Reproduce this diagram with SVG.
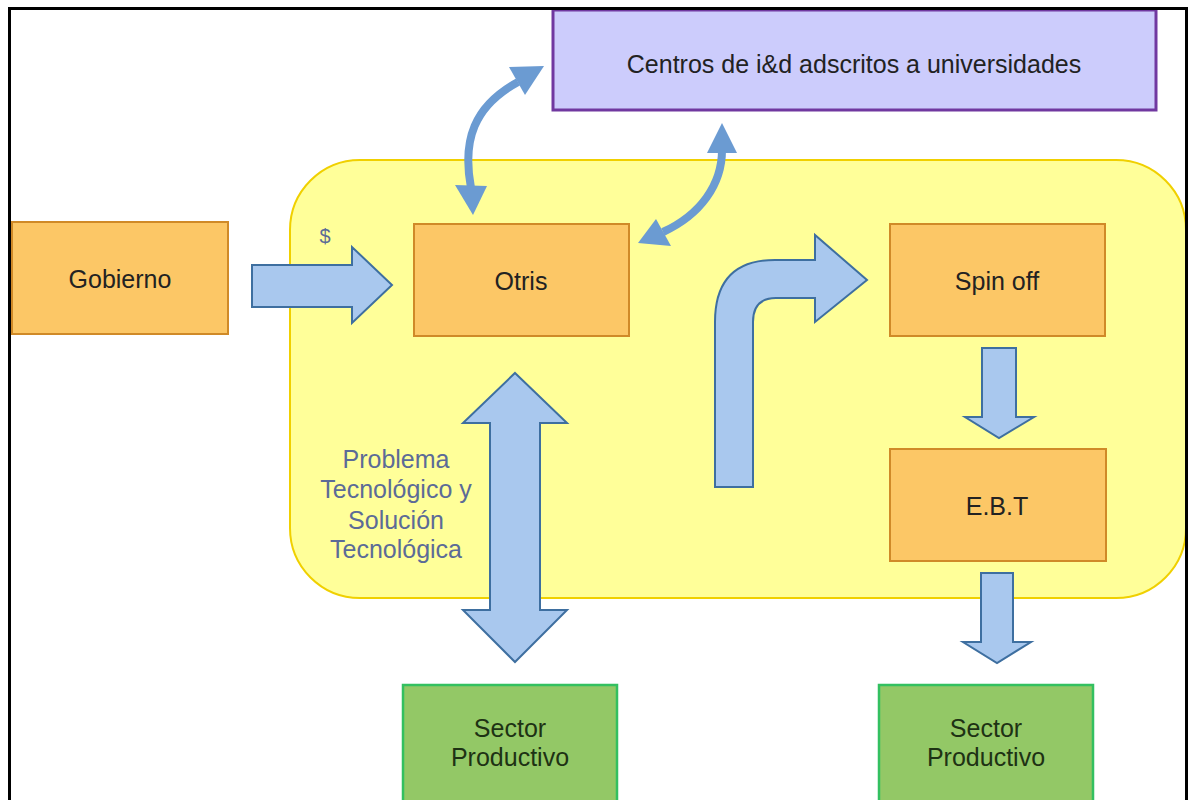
<svg xmlns="http://www.w3.org/2000/svg" width="1191" height="800" viewBox="0 0 1191 800">
<style>
  .t{font-family:"Liberation Sans",Arial,sans-serif;font-size:25px;text-anchor:middle;fill:#222}
  .g{fill:#1e3214}
  .p{fill:#5c6b97}
  .orange{fill:#fcc766;stroke:#d08a28;stroke-width:2}
  .green{fill:#93c866;stroke:#33c060;stroke-width:2.5}
  .block{fill:#a9c8ee;stroke:#3e6fa0;stroke-width:2;stroke-linejoin:miter}
  .curve{fill:none;stroke:#6b9bd2;stroke-width:8}
  .head{fill:#6b9bd2}
</style>
<rect x="0" y="0" width="1191" height="800" fill="#fff"/>
<g id="area">
  <rect x="290" y="160" width="896" height="438" rx="70" ry="70" fill="#ffff99" stroke="#f0d000" stroke-width="2"/>
</g>
<g id="centros">
  <rect x="553" y="10" width="603" height="100" fill="#ccccfc" stroke="#7038a0" stroke-width="3"/>
  <text class="t" x="854" y="73">Centros de i&amp;d adscritos a universidades</text>
</g>
<g id="gobierno">
  <rect class="orange" x="12" y="222" width="216" height="112"/>
  <text class="t" x="120" y="288">Gobierno</text>
</g>
<g id="otris">
  <rect class="orange" x="414" y="224" width="215" height="112"/>
  <text class="t" x="521" y="290">Otris</text>
</g>
<g id="spinoff">
  <rect class="orange" x="890" y="224" width="215" height="112"/>
  <text class="t" x="997" y="290">Spin off</text>
</g>
<g id="ebt">
  <rect class="orange" x="890" y="449" width="216" height="112"/>
  <text class="t" x="997" y="515">E.B.T</text>
</g>
<g id="sector1">
  <rect class="green" x="403" y="685" width="214" height="130"/>
  <text class="t g" x="510" y="737">Sector</text>
  <text class="t g" x="510" y="766">Productivo</text>
</g>
<g id="sector2">
  <rect class="green" x="879" y="685" width="214" height="130"/>
  <text class="t g" x="986" y="737">Sector</text>
  <text class="t g" x="986" y="766">Productivo</text>
</g>
<g id="labels">
  <text class="t p" x="325" y="243" style="font-size:20px">$</text>
  <text class="t p" x="396" y="468">Problema</text>
  <text class="t p" x="396" y="498">Tecnológico y</text>
  <text class="t p" x="396" y="529">Solución</text>
  <text class="t p" x="396" y="558">Tecnológica</text>
</g>
<g id="connectors">
  <path class="block" d="M252,265 L352,265 L352,247 L392,285 L352,323 L352,307 L252,307 Z"/>
  <path class="block" d="M515,373 L567,423 L540,423 L540,610 L567,610 L515,662 L463,610 L490,610 L490,423 L463,423 Z"/>
  <path class="block" d="M715,487 L715,322 Q715,260 775,260 L815,260 L815,235 L867,280 L815,322 L815,298 L776,298 Q753,298 753,322 L753,487 Z"/>
  <path class="block" d="M982,348 L1016,348 L1016,417 L1034,417 L999,438 L965,417 L982,417 Z"/>
  <path class="block" d="M981,573 L1013,573 L1013,642 L1031,642 L997,663 L963,642 L981,642 Z"/>
  <path class="curve" d="M471,188 C462,140 474,106 518,82"/>
  <polygon class="head" points="473,215 455,185 487,186"/>
  <polygon class="head" points="544,66 509,67 525,95"/>
  <path class="curve" d="M663,232 C700,215 722,185 722,150"/>
  <polygon class="head" points="638,243 656,219 671,246"/>
  <polygon class="head" points="722,123 707,153 737,153"/>
</g>
<rect x="9.5" y="8.5" width="1177" height="810" fill="none" stroke="#000" stroke-width="3"/>
</svg>
